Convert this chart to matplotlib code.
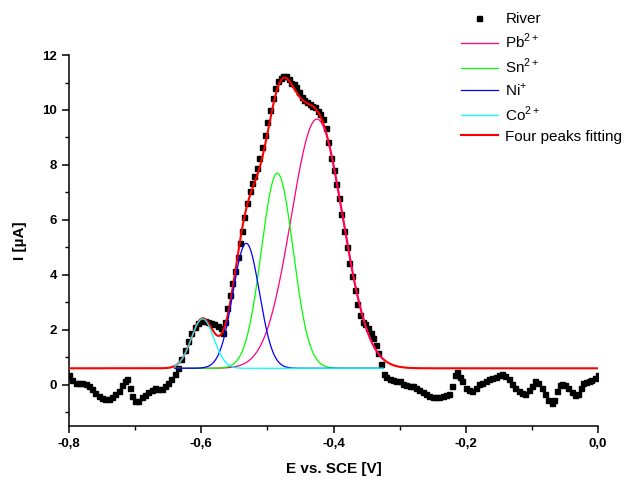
import numpy as np
import matplotlib
matplotlib.use("Agg")
import matplotlib.pyplot as plt
from matplotlib.ticker import MultipleLocator, FuncFormatter

plt.rcParams['font.family'] = ['Liberation Sans', 'DejaVu Sans']

# measured river sample (E in V, I in uA)
river_e = [
    -0.800, -0.795, -0.790, -0.785, -0.780, -0.775, -0.770, -0.765, -0.760, -0.755,
    -0.750, -0.745, -0.740, -0.735, -0.730, -0.725, -0.720, -0.715, -0.712, -0.708,
    -0.705, -0.700, -0.695, -0.690, -0.685, -0.680, -0.675, -0.670, -0.665, -0.660,
    -0.655, -0.650, -0.645, -0.640, -0.635, -0.630, -0.625, -0.620, -0.615, -0.610,
    -0.605, -0.600, -0.595, -0.590, -0.585, -0.580, -0.575, -0.570, -0.567, -0.564,
    -0.561, -0.557, -0.553, -0.549, -0.545, -0.541, -0.538, -0.535, -0.531, -0.527,
    -0.523, -0.520, -0.516, -0.512, -0.508, -0.504, -0.500, -0.496, -0.492, -0.488,
    -0.484, -0.480, -0.476, -0.472, -0.468, -0.464, -0.460, -0.456, -0.452, -0.448,
    -0.444, -0.440, -0.436, -0.432, -0.428, -0.424, -0.420, -0.416, -0.412, -0.408,
    -0.404, -0.400, -0.396, -0.392, -0.388, -0.384, -0.380, -0.376, -0.372, -0.368,
    -0.364, -0.360, -0.356, -0.352, -0.348, -0.344, -0.340, -0.336, -0.332, -0.328,
    -0.324, -0.320, -0.315, -0.310, -0.305, -0.300, -0.295, -0.290, -0.285, -0.280,
    -0.275, -0.270, -0.265, -0.260, -0.255, -0.250, -0.245, -0.240, -0.235, -0.230,
    -0.225, -0.221, -0.217, -0.213, -0.209, -0.205, -0.200, -0.195, -0.190, -0.185,
    -0.180, -0.175, -0.170, -0.165, -0.160, -0.155, -0.150, -0.145, -0.140, -0.135,
    -0.130, -0.125, -0.120, -0.115, -0.110, -0.105, -0.100, -0.095, -0.090, -0.085,
    -0.080, -0.075, -0.070, -0.066, -0.062, -0.058, -0.054, -0.050, -0.045, -0.040,
    -0.035, -0.030, -0.026, -0.022, -0.018, -0.014, -0.010, -0.005, 0.000,
]
river_i = [
    0.35, 0.18, 0.05, 0.06, 0.08, 0.04, -0.05, -0.17, -0.30, -0.42,
    -0.47, -0.52, -0.50, -0.45, -0.35, -0.22, -0.02, 0.15, 0.21, -0.12,
    -0.40, -0.58, -0.60, -0.46, -0.38, -0.28, -0.20, -0.10, -0.14, -0.16,
    -0.05, 0.08, 0.21, 0.38, 0.62, 0.95, 1.28, 1.60, 1.90, 2.12,
    2.25, 2.32, 2.33, 2.28, 2.24, 2.22, 2.15, 2.05, 1.88, 2.30,
    2.80, 3.25, 3.72, 4.15, 4.65, 5.15, 5.60, 6.10, 6.60, 7.05,
    7.35, 7.60, 7.90, 8.25, 8.65, 9.10, 9.55, 10.00, 10.45, 10.80,
    11.05, 11.18, 11.25, 11.22, 11.12, 11.00, 10.95, 10.82, 10.65, 10.48,
    10.35, 10.28, 10.22, 10.16, 10.10, 9.98, 9.85, 9.68, 9.35, 8.85,
    8.25, 7.80, 7.30, 6.80, 6.20, 5.60, 5.00, 4.45, 3.95, 3.45,
    2.95, 2.55, 2.30, 2.20, 2.05, 1.90, 1.72, 1.45, 1.15, 0.75,
    0.40, 0.30, 0.22, 0.18, 0.15, 0.12, 0.04, 0.00, -0.04, -0.06,
    -0.10, -0.18, -0.28, -0.35, -0.40, -0.44, -0.46, -0.43, -0.40, -0.38,
    -0.33, -0.05, 0.35, 0.45, 0.30, 0.15, -0.10, -0.20, -0.22, -0.10,
    0.02, 0.08, 0.15, 0.22, 0.25, 0.30, 0.36, 0.40, 0.32, 0.20,
    0.02, -0.12, -0.24, -0.30, -0.34, -0.20, -0.05, 0.15, 0.05, -0.10,
    -0.34, -0.55, -0.65, -0.55, -0.22, -0.02, 0.03, 0.00, -0.10, -0.28,
    -0.38, -0.35, -0.10, 0.05, 0.10, 0.14, 0.17, 0.25, 0.35,
]

# fitted gaussian peaks: Pb2+, Sn2+, Ni+, Co2+
peak_names = ['Pb$^{\\mathregular{2+}}$', 'Sn$^{\\mathregular{2+}}$',
              'Ni$^{\\mathregular{+}}$', 'Co$^{\\mathregular{2+}}$']
peak_center = [-0.425, -0.485, -0.532, -0.598]
peak_height = [9.07, 7.10, 4.55, 1.80]
peak_sigma = [0.039, 0.024, 0.020, 0.017]
peak_colors = ['#FF0080', '#00FF00', '#0000FF', '#00FFFF']
baseline = 0.6


def gauss(e, c, h, s):
    return h * np.exp(-(e - c) ** 2 / (2 * s ** 2))


fig = plt.figure(figsize=(6.25, 4.9), dpi=100)
ax = fig.add_axes([0.1104, 0.1306, 0.8464, 0.7571])

ax.plot(river_e, river_i, 's', color='black', ms=3.6, label='River', zorder=2)

e_full = np.linspace(-0.8, 0.0, 801)
fit = baseline + sum(gauss(e_full, c, h, s)
                     for c, h, s in zip(peak_center, peak_height, peak_sigma))
ax.plot(e_full, fit, color='#FF0000', lw=1.5, zorder=3)

e_part = np.linspace(-0.64, -0.325, 400)
for name, c, h, s, col in zip(peak_names, peak_center, peak_height, peak_sigma, peak_colors):
    ax.plot(e_part, baseline + gauss(e_part, c, h, s), color=col, lw=0.9,
            label=name, zorder=4)

# legend order like the original, red fit last
handles, labels = ax.get_legend_handles_labels()
red_handle = plt.Line2D([], [], color='#FF0000', lw=1.5)
handles.append(red_handle)
labels.append('Four peaks fitting')
fig.legend(handles, labels, loc='upper left', bbox_to_anchor=(461 / 625, 1 - 12 / 490),
           frameon=False, fontsize=11, handlelength=2.4, handletextpad=0.5,
           borderpad=0, labelspacing=0.38, borderaxespad=0)

ax.set_xlim(-0.8, 0.0)
ax.set_ylim(-1.5, 12)
ax.spines['top'].set_visible(False)
ax.spines['right'].set_visible(False)
ax.spines['left'].set_linewidth(1.1)
ax.spines['bottom'].set_linewidth(1.1)

ax.xaxis.set_major_locator(MultipleLocator(0.2))
ax.xaxis.set_minor_locator(MultipleLocator(0.1))
ax.yaxis.set_major_locator(MultipleLocator(2))
ax.yaxis.set_minor_locator(MultipleLocator(1))
ax.xaxis.set_major_formatter(FuncFormatter(lambda v, p: f"{v:.1f}".replace('.', ',').replace('-0,0', '0,0')))
ax.yaxis.set_major_formatter(FuncFormatter(lambda v, p: f"{v:.0f}"))
ax.tick_params(which='major', direction='out', length=5, width=1.1, labelsize=9.5)
ax.tick_params(which='minor', direction='out', length=3, width=1.0)
for lab in ax.get_xticklabels() + ax.get_yticklabels():
    lab.set_fontweight('bold')

ax.set_xlabel('E vs. SCE [V]', fontsize=11, fontweight='bold', labelpad=9)
ax.set_ylabel('I [µA]', fontsize=11, fontweight='bold', labelpad=11)

fig.savefig('out.png', dpi=100)
